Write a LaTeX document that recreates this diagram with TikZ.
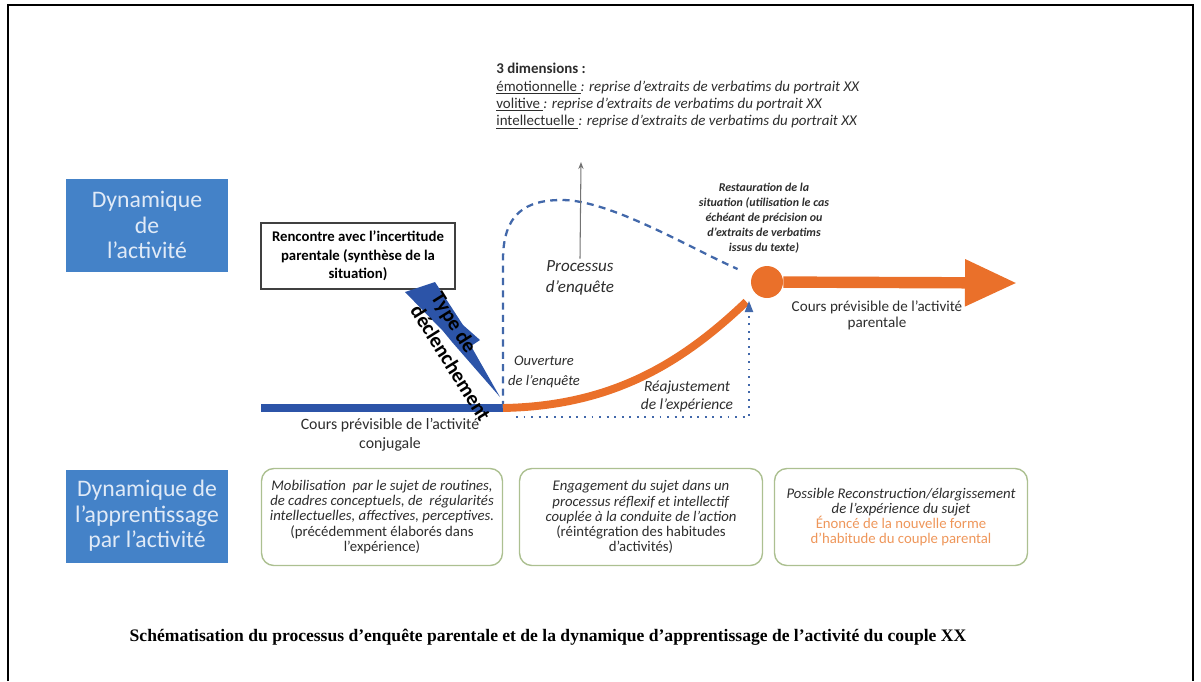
\documentclass[tikz,border=0pt]{standalone}
\usepackage{fontspec}
\setmainfont{Carlito}
\newfontfamily\capfont{Liberation Serif}
\usetikzlibrary{arrows.meta}

\definecolor{dynblue}{RGB}{68,130,200}
\definecolor{dynpale}{RGB}{224,234,247}
\definecolor{barblue}{RGB}{44,84,168}
\definecolor{dashblue}{RGB}{66,104,170}
\definecolor{orng}{RGB}{234,112,42}
\definecolor{orngtxt}{RGB}{238,150,90}
\definecolor{boxgreen}{RGB}{172,192,145}
\definecolor{txtgray}{RGB}{45,45,45}

\tikzset{
  dynbox/.style={fill=dynblue, text=dynpale, minimum width=3.24cm, minimum height=1.86cm,
    align=center, inner sep=0pt, font=\fontsize{13.5}{14.6}\selectfont},
  learnbox/.style={draw=boxgreen, line width=0.8pt, rounded corners=7pt, minimum height=1.94cm,
    align=center, inner sep=0pt, text=txtgray, font=\fontsize{8.4}{8.6}\selectfont},
  smalltxt/.style={align=center, inner sep=1pt, text=txtgray, font=\fontsize{7.5}{10}\selectfont},
  orngline/.style={draw=orng, line width=4.5pt},
  dashline/.style={draw=dashblue, line width=1.3pt, dash pattern=on 4pt off 3pt},
  dotline/.style={draw=dashblue, line width=1.2pt, dash pattern=on 1.1pt off 3.2pt}
}

\begin{document}
\begin{tikzpicture}[x=0.02cm, y=-0.02cm]
	\useasboundingbox (0,0) rectangle (1201,681);
	\draw[line width=1pt] (8,681) -- (8,5) -- (1193,5) -- (1193,681);

	% left labels
	\node[dynbox] (dynact) at (147,225) {Dynamique\\de\\l'activité};
	\node[dynbox] (dynapp) at (147,516) {Dynamique de\\l'apprentissage\\par l'activité};

	% upper part
	\node[draw=black!75, line width=0.9pt, minimum width=3.88cm, minimum height=1.32cm, align=center,
	      inner sep=0pt, font=\fontsize{8.4}{10.4}\selectfont\bfseries] (rencontre) at (358,256)
	      {Rencontre avec l'incertitude\\parentale (synthèse de la\\situation)};
	\node[anchor=north west, align=left, inner sep=0pt, text=txtgray, font=\fontsize{8.5}{9.8}\selectfont] (dims) at (496,63)
	      {\textbf{3 dimensions :}\\
	       \underline{émotionnelle }\textit{: reprise d'extraits de verbatims du portrait XX}\\
	       \underline{volitive }\textit{: reprise d'extraits de verbatims du portrait XX}\\
	       \underline{intellectuelle }\textit{: reprise d'extraits de verbatims du portrait XX}};
	\node[smalltxt, font=\fontsize{9.7}{12}\selectfont\itshape] (procs) at (580,278) {Processus\\d'enquête};
	\node[smalltxt, anchor=west, font=\fontsize{8.3}{11}\selectfont\itshape] (ouvert) at (506,372) {Ouverture\\de l'enquête};
	\node[smalltxt, font=\fontsize{8.8}{10.2}\selectfont\itshape] (reajust) at (687,396) {Réajustement\\de l'expérience};
	\node[smalltxt, font=\fontsize{6.8}{8.6}\selectfont\bfseries\itshape] (restau) at (764,218)
	      {Restauration de la\\situation (utilisation le cas\\échéant de précision ou\\d'extraits de verbatims\\issus du texte)};
	\node[smalltxt, font=\fontsize{9}{11}\selectfont] (conjug) at (390,435) {Cours prévisible de l'activité\\conjugale};
	\node[smalltxt, font=\fontsize{8.6}{9.2}\selectfont] (parent) at (877,315) {Cours prévisible de l'activité\\parentale};

	\coordinate (barstart) at (261,408);
	\coordinate (open) at (503,408);
	\coordinate (dotstart) at (516,417);
	\coordinate (dotend) at (749,299);
	\coordinate (graytip) at (581,162);
	\coordinate (arrend) at (1017,283);
	\node[circle, fill=orng, minimum size=0.64cm, inner sep=0pt] (circ) at (767,282) {};

	% connectors
	\draw[barblue, line width=5pt] (barstart) -- (open);
	\draw[dashline, shorten >=9pt] (open) -- (503,260) .. controls (503,214) and (525,200) .. (562,200)
	   .. controls (610,200) and (690,248) .. (circ);
	\draw[orngline, shorten >=7pt] (open) .. controls (610,406) and (680,365) .. (circ);
	\draw[orng, line width=6.5pt, -{Triangle[length=1.04cm, width=0.88cm]}] (circ) -- (arrend);
	\draw[dotline, -{Triangle[length=6.5pt, width=4.6pt, sep=1pt]}] (dotstart) -| (dotend);
	\draw[black!55, line width=0.6pt, -{Stealth[length=4pt, width=3pt]}] (procs.north) -- (graytip);

	% lightning
	\fill[barblue] (405,292) -- (435,282) -- (463,325) -- (480,340) -- (471,346) -- (500,397)
	   -- (452,342) -- (443,331) -- cycle;
	\node[rotate=-58, anchor=west, align=left, inner sep=0pt, font=\fontsize{11.8}{14}\selectfont\bfseries] (trigger)
	   at (426,300) {Type de\\déclenchement};

	% lower boxes
	\node[learnbox, minimum width=4.82cm] (mobil) at (382,517)
	   {\textit{Mobilisation\ \ par le sujet de routines,}\\
	    \textit{de cadres conceptuels, de\ \ régularités}\\
	    \textit{intellectuelles, affectives, perceptives.}\\
	    (précédemment élaborés dans\\l'expérience)};
	\node[learnbox, minimum width=4.86cm] (engag) at (641,517)
	   {\textit{Engagement du sujet dans un}\\
	    \textit{processus réflexif et intellectif}\\
	    \textit{couplée à la conduite de l'action}\\
	    (réintégration des habitudes\\d'activités)};
	\node[learnbox, minimum width=5.06cm] (recons) at (901,517)
	   {\textit{Possible Reconstruction/élargissement}\\
	    \textit{de l'expérience du sujet}\\
	    \textcolor{orngtxt}{Énoncé de la nouvelle forme}\\
	    \textcolor{orngtxt}{d'habitude du couple parental}};

	\node[inner sep=0pt, font=\capfont\fontsize{10}{11}\selectfont\bfseries] (caption) at (548,637)
	   {Schématisation du processus d’enquête parentale et de la dynamique d’apprentissage de l’activité du couple XX};
\end{tikzpicture}
\end{document}
